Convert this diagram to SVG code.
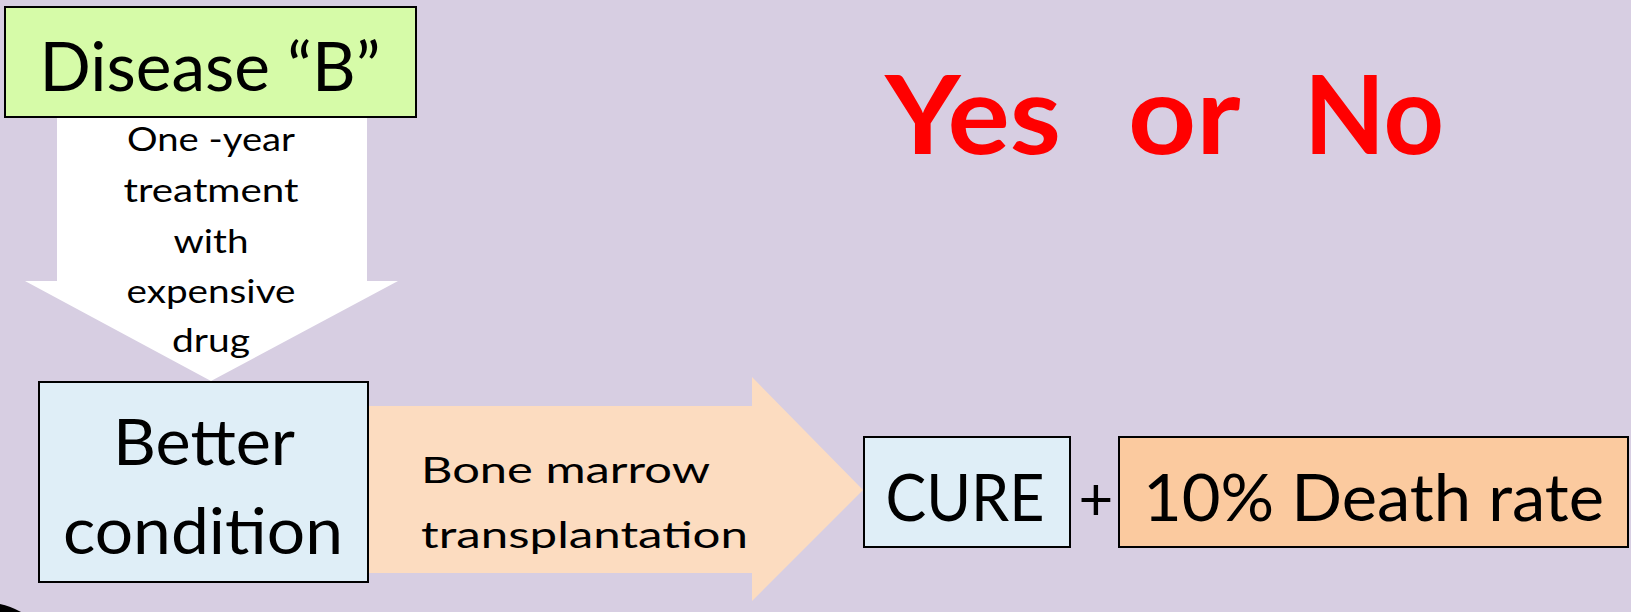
<svg xmlns="http://www.w3.org/2000/svg" width="1631" height="612" viewBox="0 0 1631 612">
  <style>
    .t { font-family: Lato, "Open Sans", "Liberation Sans", sans-serif; fill: #000; }
    .box { stroke: #000; stroke-width: 2; }
    .mid { text-anchor: middle; }
  </style>
  <rect width="1631" height="612" fill="#d7cee2"/>
  <!-- curved edge in the lower-left corner -->
  <path d="M0,604 Q10,606 21,612 L0,612 Z" fill="#000"/>

  <g id="connectors">
    <!-- downward arrow: disease -> better condition -->
    <g id="arrow-treatment">
      <polygon points="57,117 367,117 367,281 398,281 211,381 25,281 57,281" fill="#ffffff"/>
      <g class="t mid" font-size="32">
        <text x="211" y="151" textLength="168" lengthAdjust="spacingAndGlyphs">One -year</text>
        <text x="211" y="202" textLength="175" lengthAdjust="spacingAndGlyphs">treatment</text>
        <text x="211" y="253" textLength="75" lengthAdjust="spacingAndGlyphs">with</text>
        <text x="211" y="303" textLength="169" lengthAdjust="spacingAndGlyphs">expensive</text>
        <text x="211" y="352" textLength="78" lengthAdjust="spacingAndGlyphs">drug</text>
      </g>
    </g>
    <!-- right arrow: better condition -> cure -->
    <g id="arrow-transplant">
      <polygon points="360,406 752,406 752,377 863,490 752,601 752,573 360,573" fill="#fcdcc0"/>
      <g class="t" font-size="36">
        <text x="421" y="483" textLength="289" lengthAdjust="spacingAndGlyphs">Bone marrow</text>
        <text x="421" y="548" textLength="327" lengthAdjust="spacingAndGlyphs">transplantation</text>
      </g>
    </g>
  </g>

  <g id="node-disease">
    <rect class="box" x="5" y="7" width="411" height="110" fill="#d6fba8"/>
    <text class="t mid" x="210" y="91" font-size="67" textLength="341" lengthAdjust="spacingAndGlyphs">Disease “B”</text>
  </g>

  <g id="node-better">
    <rect class="box" x="39" y="382" width="329" height="200" fill="#dfeef7"/>
    <text class="t mid" x="204" y="465" font-size="63" textLength="182" lengthAdjust="spacingAndGlyphs">Better</text>
    <text class="t mid" x="203" y="554" font-size="63" textLength="280" lengthAdjust="spacingAndGlyphs">condition</text>
  </g>

  <g id="node-cure">
    <rect class="box" x="864" y="437" width="206" height="110" fill="#dfeef7"/>
    <text class="t mid" x="965" y="521" font-size="65" textLength="159" lengthAdjust="spacingAndGlyphs">CURE</text>
  </g>

  <g id="node-plus">
    <text class="t mid" x="1096" y="520" font-size="60">+</text>
  </g>

  <g id="node-death">
    <rect class="box" x="1119" y="437" width="509" height="110" fill="#fbca9f"/>
    <text class="t" x="1143" y="521" font-size="65" textLength="461" lengthAdjust="spacingAndGlyphs">10% Death rate</text>
  </g>

  <g id="node-question">
    <text class="t" font-size="110" font-weight="bold" fill="#ff0000" style="fill:#ff0000" y="154">
      <tspan x="885" textLength="176" lengthAdjust="spacingAndGlyphs">Yes</tspan>
      <tspan x="1128" textLength="110" lengthAdjust="spacingAndGlyphs">or</tspan>
      <tspan x="1304" textLength="140" lengthAdjust="spacingAndGlyphs">No</tspan>
    </text>
  </g>
</svg>
